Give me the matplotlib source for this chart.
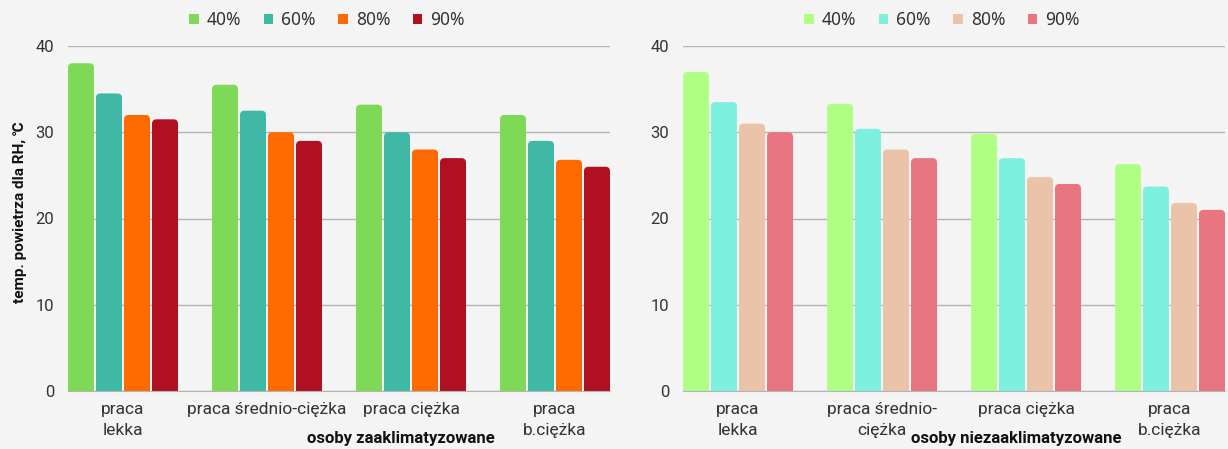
import matplotlib
matplotlib.use("Agg")
import matplotlib.pyplot as plt
from matplotlib.patches import FancyBboxPatch, Patch
import numpy as np

plt.rcParams['font.family'] = ['Roboto', 'DejaVu Sans']

series = ['40%', '60%', '80%', '90%']
cats_left = ['praca\nlekka', 'praca średnio-ciężka', 'praca ciężka', 'praca\nb.ciężka']
cats_right = ['praca\nlekka', 'praca średnio-\nciężka', 'praca ciężka', 'praca\nb.ciężka']

left_40 = [38.0, 35.5, 33.2, 32.0]
left_60 = [34.5, 32.5, 30.0, 29.0]
left_80 = [32.0, 30.0, 28.0, 26.8]
left_90 = [31.5, 29.0, 27.0, 26.0]

right_40 = [37.0, 33.3, 29.8, 26.3]
right_60 = [33.5, 30.4, 27.0, 23.7]
right_80 = [31.0, 28.0, 24.8, 21.8]
right_90 = [30.0, 27.0, 24.0, 21.0]

colors_left = ['#7ed957', '#3fb8a5', '#ff6a00', '#b10f22']
colors_right = ['#b0ff85', '#7ef0e0', '#ebc3a8', '#e8757f']

yticks = [0, 10, 20, 30, 40]
ylabel = 'temp. powietrza dla RH, \u2103'
xlabel_left = 'osoby zaaklimatyzowane'
xlabel_right = 'osoby niezaaklimatyzowane'

W, H = 1228, 449
fig = plt.figure(figsize=(W / 100, H / 100), dpi=100)
fig.patch.set_facecolor('#f4f4f4')

ax_w = 542 / W
ax_b = 58 / H
ax_h = 345 / H
axL = fig.add_axes([68 / W, ax_b, ax_w, ax_h])
axR = fig.add_axes([683 / W, ax_b, ax_w, ax_h])

pitch = 28 / 144
bw = 26 / 144


def draw(ax, cats, data, colors, leg_cx):
    ax.set_facecolor('none')
    x = np.arange(len(cats))
    ax.set_xlim(-55 / 144, 3 + 55 / 144)
    ax.set_ylim(0, 40)
    rx = 4.5 / 144
    ry = 4.5 / (345 / 40)
    for i, (vals, c) in enumerate(zip(data, colors)):
        bars = ax.bar(x + (i - 1.5) * pitch, vals, width=bw, color=c, zorder=3)
        for r in bars.patches:
            x0, w, h = r.get_x(), r.get_width(), r.get_height()
            r.set_visible(False)
            p = FancyBboxPatch((x0, -2), w, h + 2,
                               boxstyle=f'round,pad=0,rounding_size={rx}',
                               mutation_aspect=ry / rx,
                               facecolor=c, edgecolor='none', zorder=3,
                               clip_on=True)
            ax.add_patch(p)
    ax.set_yticks(yticks)
    ax.set_xticks(x)
    ax.set_xticklabels(cats, fontsize=12.5, color='#333333', linespacing=1.45)
    ax.tick_params(axis='x', length=0, pad=8)
    ax.tick_params(axis='y', length=0, pad=10, labelsize=12, labelcolor='#333333')
    ax.grid(axis='y', color='#b4b4b4', linewidth=1, zorder=0)
    for s in ['top', 'right', 'left']:
        ax.spines[s].set_visible(False)
    ax.spines['bottom'].set_color('#b4b4b4')
    ax.spines['bottom'].set_zorder(4)
    handles = [Patch(facecolor=c, edgecolor='none') for c in colors]
    fig.legend(handles, series, loc='center', bbox_to_anchor=(leg_cx / W, 1 - 20 / H),
               ncol=4, frameon=False, handlelength=0.55, handleheight=0.55,
               handletextpad=0.45, columnspacing=1.3, labelcolor='#333333',
               prop={'family': ['Noto Sans', 'DejaVu Sans'], 'size': 12.5})


draw(axL, cats_left, [left_40, left_60, left_80, left_90], colors_left, 327)
draw(axR, cats_right, [right_40, right_60, right_80, right_90], colors_right, 942)

fig.text(20 / W, 1 - 212 / H, ylabel, rotation=90, ha='center', va='center',
         fontsize=11, fontweight='bold', color='#111111', family=['Roboto', 'DejaVu Sans'])
fig.text(401 / W, 1 - 438 / H, xlabel_left, ha='center', va='center',
         fontsize=12, fontweight='bold', color='#111111', family=['Roboto', 'DejaVu Sans'])
fig.text(1016 / W, 1 - 438 / H, xlabel_right, ha='center', va='center',
         fontsize=12, fontweight='bold', color='#111111', family=['Roboto', 'DejaVu Sans'])

fig.savefig('out.png', dpi=100, facecolor=fig.get_facecolor())
